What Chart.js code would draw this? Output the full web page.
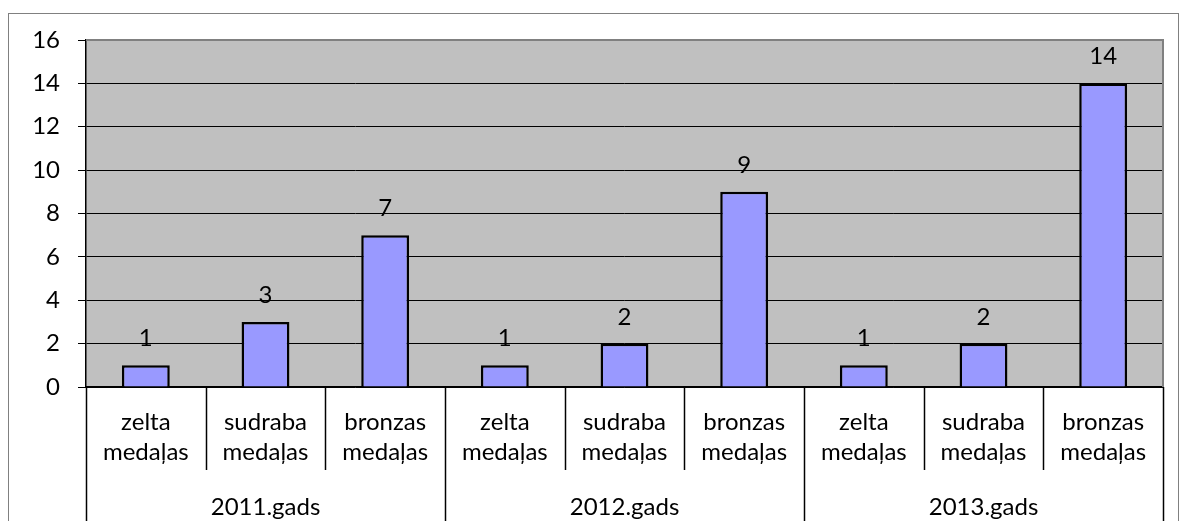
<!DOCTYPE html>
<html><head><meta charset="utf-8">
<script src="https://cdn.jsdelivr.net/npm/chart.js@4.4.1/dist/chart.umd.min.js"></script>
<style>html,body{margin:0;padding:0;background:#fff;}#wrap{width:1179px;height:521px;position:relative;}</style>
</head><body><div id="wrap"><canvas id="c" width="1179" height="521"></canvas></div>
<script>
const categories = [['zelta','medaļas'],['sudraba','medaļas'],['bronzas','medaļas'],['zelta','medaļas'],['sudraba','medaļas'],['bronzas','medaļas'],['zelta','medaļas'],['sudraba','medaļas'],['bronzas','medaļas']];
const groups = ['2011.gads','2012.gads','2013.gads'];
const values = [1,3,7,1,2,9,1,2,14];
const yTicks = [0,2,4,6,8,10,12,14,16];

const FONT = 'Lato, "Noto Sans", sans-serif';
const FS = 24;

const deco = {
  id:'deco',
  beforeDraw(chart){
    const {ctx, chartArea:a} = chart;
    ctx.save();
    ctx.fillStyle='#fff'; ctx.fillRect(0,0,chart.width,chart.height);
    ctx.strokeStyle='#808080'; ctx.lineWidth=1;
    ctx.strokeRect(8.5,13.5,1170,600);
    ctx.fillStyle='#C0C0C0';
    ctx.fillRect(a.left,a.top,a.right-a.left,a.bottom-a.top);
    ctx.restore();
  },
  afterDraw(chart){
    const {ctx, chartArea:a} = chart;
    const x = chart.scales.x;
    ctx.save();
    ctx.strokeStyle='#808080'; ctx.lineWidth=2;
    ctx.beginPath(); ctx.moveTo(a.left,a.top); ctx.lineTo(a.right,a.top); ctx.lineTo(a.right,a.bottom); ctx.stroke();
    ctx.strokeStyle='#000'; ctx.lineWidth=1.5;
    const n = categories.length, w = (x.right-x.left)/n;
    for(let i=0;i<=n;i++){
      const px = Math.round(x.left + i*w)+0.5;
      const isGroup = i%3===0;
      ctx.beginPath(); ctx.moveTo(px,a.bottom); ctx.lineTo(px,isGroup?chart.height:x.bottom); ctx.stroke();
    }
    ctx.fillStyle='#000'; ctx.font=FS+'px '+FONT; ctx.textAlign='center'; ctx.textBaseline='alphabetic';
    const meta = chart.getDatasetMeta(0);
    meta.data.forEach((bar,i)=>{ ctx.fillText(String(values[i]), bar.x, bar.y-19); });
    ctx.restore();
  }
};

new Chart(document.getElementById('c'),{
  type:'bar',
  data:{labels:categories,datasets:[{data:values,backgroundColor:'#9999FF',borderColor:'#000',borderWidth:2.5,barPercentage:0.4,categoryPercentage:1}]},
  options:{
    responsive:false,animation:false,
    layout:{padding:{left:8,top:40,right:16,bottom:0}},
    plugins:{legend:{display:false},tooltip:{enabled:false}},
    scales:{
      y:{min:0,max:16,
        afterBuildTicks(s){s.ticks=yTicks.map(v=>({value:v}));},
        afterFit(s){s.width=78;},
        ticks:{stepSize:2,padding:18,color:'#000',font:{size:FS,family:FONT}},
        grid:{color:ctx=>ctx.tick&&ctx.tick.value===16?'#808080':'#000',lineWidth:1,tickLength:8,tickColor:'#000'},
        border:{color:'#000',width:1.5}
      },
      x:{position:'bottom',
        afterFit(s){s.height=83;},
        ticks:{color:'#000',padding:12,maxRotation:0,autoSkip:false,font:{size:FS,family:FONT,lineHeight:1.25}},
        grid:{display:false},
        border:{color:'#000',width:1.5}
      },
      x2:{type:'category',labels:groups,position:'bottom',offset:true,
        afterFit(s){s.height=51;},
        ticks:{color:'#000',padding:14,maxRotation:0,font:{size:FS,family:FONT,lineHeight:1.25}},
        grid:{display:false},border:{display:false}
      }
    }
  },
  plugins:[deco]
});
</script></body></html>
